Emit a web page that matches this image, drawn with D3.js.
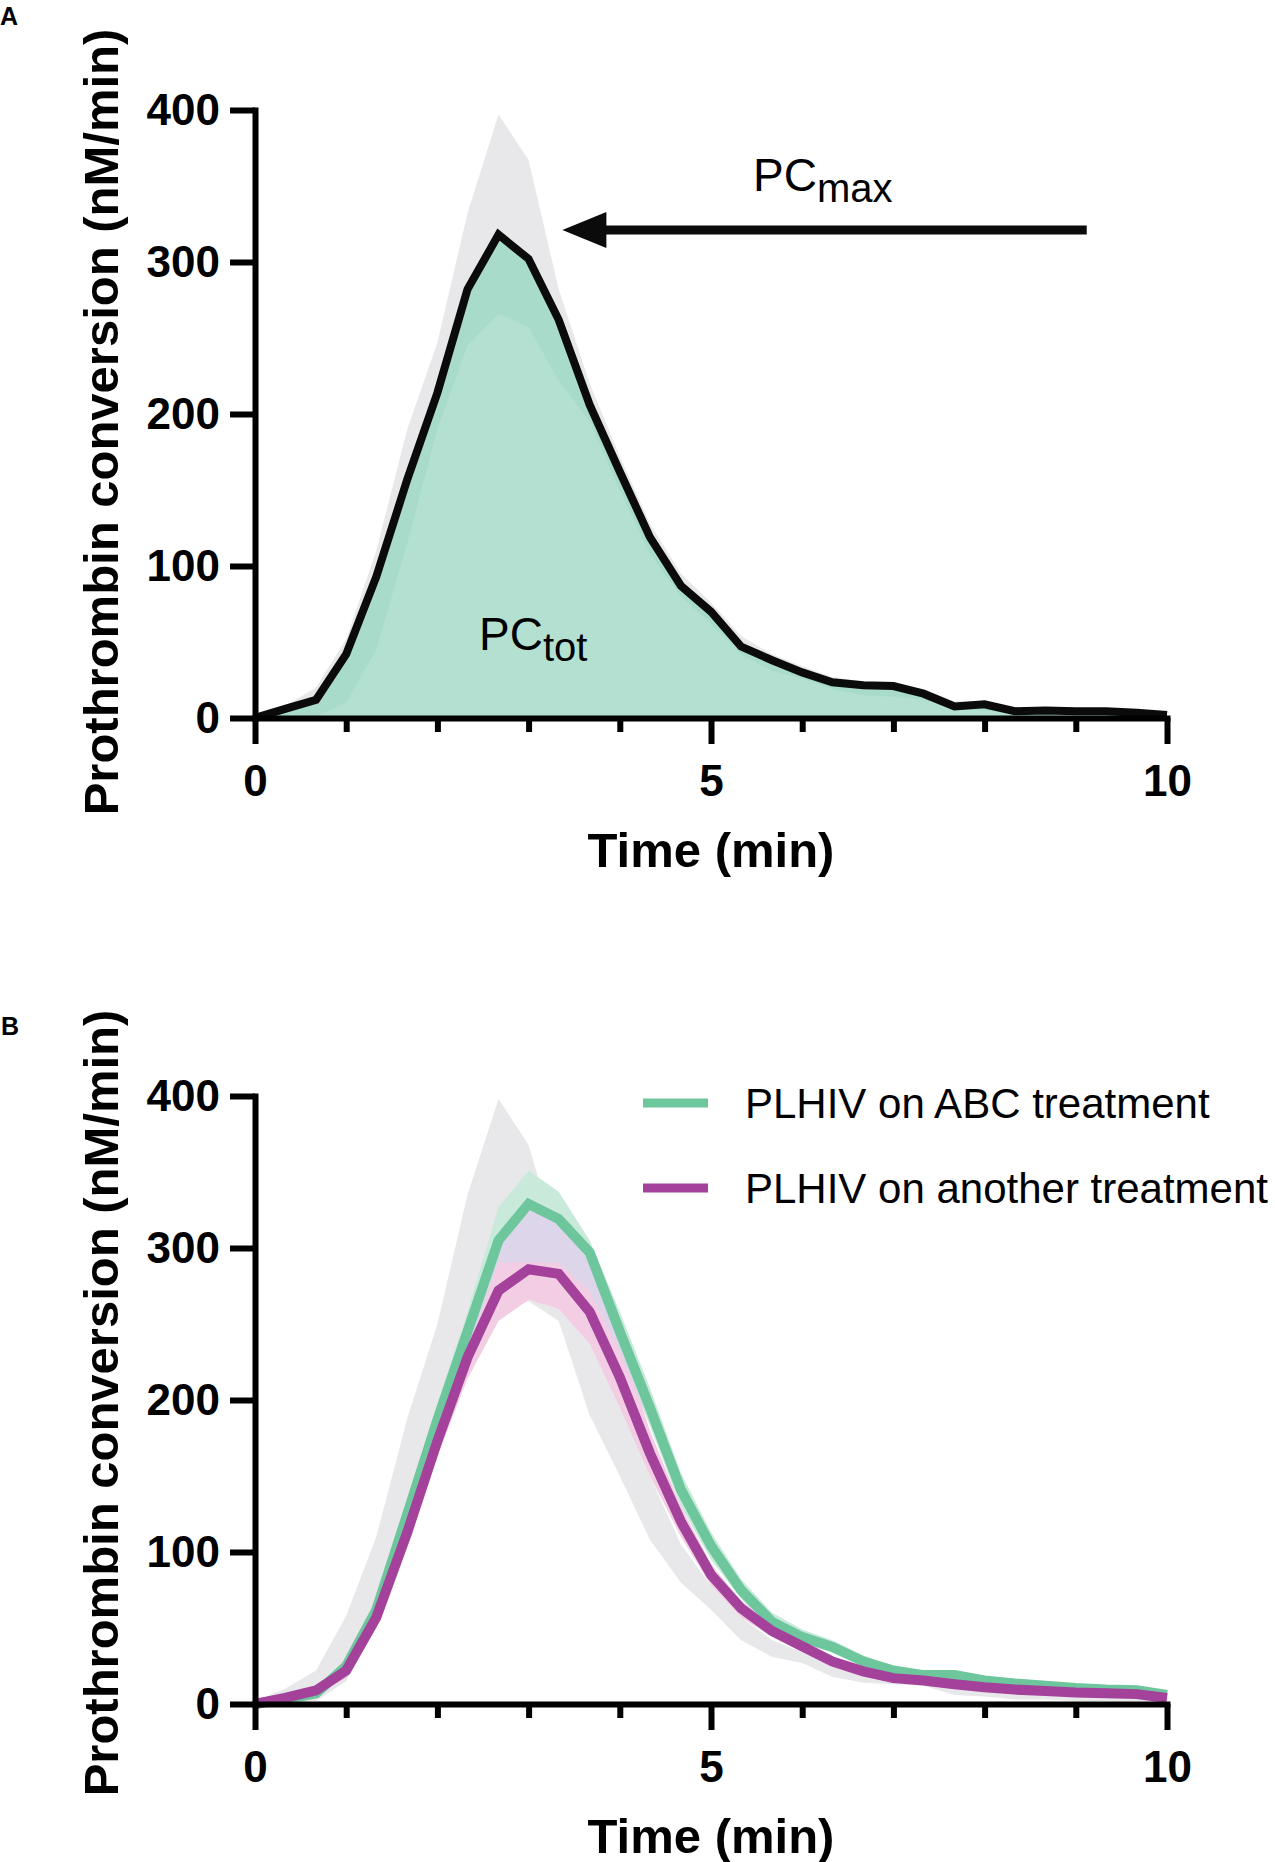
<!DOCTYPE html>
<html><head><meta charset="utf-8">
<script src="https://cdn.jsdelivr.net/npm/d3@7"></script>
<style>
body{margin:0;background:#fff;}
svg{display:block;}
text{font-family:"Liberation Sans", Arial, Helvetica, sans-serif;}
</style>
</head><body>
<svg id="chart" width="1275" height="1862"></svg>
<script>
// ---- data ----
const times = [0,0.33,0.67,1,1.33,1.67,2,2.33,2.67,3,3.33,3.67,4,4.33,4.67,5,5.33,5.67,6,6.33,6.67,7,7.33,7.67,8,8.33,8.67,9,9.33,9.67,10];

// Panel A
const meanA      = [0,6,12,42,93,157,214,282,318,302,262,206,162,119,87,70,47,38,30,23.5,21.5,21,16,7.6,9,4.5,5,4.5,4.5,3.5,2];
const greyAUpper = [2,8,20,52,110,190,247,332,397,367,282,220,172,128,95,76,54,42,34,27,24,23,19,11,11,7,7,6,6,5,4];
const greyALower = [0,0,1,10,45,115,190,245,266,257,222,195,150,108,80,62,42,31,26,19,15,14,12,6,5,3,3,2,2,2,1];

// Panel B
const greyBUpper = [2,10,22,58,110,188,250,335,398,368,300,245,197,150,105,78,57,42,34,26,21,18,15,12,10,8,7,6,5,5,3];
const greyBLower = [0,0,2,15,55,110,170,235,258,265,252,190,150,108,80,62,42,31,27,18,14,13,12,6,5,3,3,2,2,2,1];
const abcMean    = [0,3,7,25,62,125,187,245,305,329,319,297,245,195,141,104,75,54,44,37.5,28,22,19,19,15.5,13.5,12,10.5,9.5,9,6];
const abcUpper   = [1,4,9,29,68,132,198,258,327,351,337,305,258,208,152,113,82,60,49,42,32,25,21,21,17,15,13,11.5,10.5,10,7];
const abcLower   = [0,2,5,21,56,118,176,232,290,291,290,272,232,183,130,95,69,49,40,34,25,19,17,17,14,12,11,9.5,8.5,8,5];
const otherMean  = [0,4,9,22,57,113,173,228,272,286,283,258,215,165,120,85,63,48,38,28,21.5,17,15.5,13,11,9.5,8.5,7.5,7,6.5,4];
const otherUpper = [1,5,11,25,62,120,182,240,302,325,318,290,240,180,130,92,68,52,41,31,24,19,17,14.5,12.5,11,10,9,8,7.5,5];
const otherLower = [0,2,6,17,50,105,163,214,252,266,260,237,195,150,110,78,57,44,34,24,18,14.5,13.5,11,9.5,8,7,6,5.5,5,3];

const yTicks = [0,100,200,300,400];
const xMajorTicks = [0,5,10];
const xMinorTicks = [1,2,3,4,6,7,8,9];
const seriesNames = ["PLHIV on ABC treatment","PLHIV on another treatment"];
const peakAnnot = {tip: 3.37, tail: 9.12, value: 321};

// ---- drawing ----
const svg = d3.select('#chart');
const x = d3.scaleLinear().domain([0,10]).range([255,1167]);
const makeY = base => d3.scaleLinear().domain([0,400]).range([base, base-608]);
const yA = makeY(718), yB = makeY(1704);

const bandArea = (y, lo, hi) => d3.area().x((d,i)=>x(times[i])).y0((d,i)=>y(lo[i])).y1((d,i)=>y(hi[i]));
const meanLine = (y, arr) => d3.line().x((d,i)=>x(times[i])).y((d,i)=>y(arr[i]));

function drawAxes(y, base, titleShift) {
  const g = svg.append('g');
  const ay = g.append('g').attr('transform','translate(255,0)')
    .call(d3.axisLeft(y).tickValues(yTicks).tickSize(25).tickSizeOuter(0).tickPadding(10));
  const axm = g.append('g').attr('transform',`translate(0,${base})`)
    .call(d3.axisBottom(x).tickValues(xMinorTicks).tickSize(14).tickFormat(''));
  axm.select('.domain').remove();
  const ax = g.append('g').attr('transform',`translate(0,${base})`)
    .call(d3.axisBottom(x).tickValues(xMajorTicks).tickSize(26).tickSizeOuter(0).tickPadding(21));
  [ay, axm, ax].forEach(a => {
    a.selectAll('.domain').attr('stroke','#000').attr('stroke-width',6).attr('stroke-linecap','square');
    a.selectAll('.tick line').attr('stroke','#000').attr('stroke-width',6);
    a.selectAll('.tick text').attr('fill','#000').style('font-size','44px').style('font-weight','bold')
      .style('font-family','"Liberation Sans", Arial, sans-serif');
  });
  g.append('text').attr('x', 711).attr('y', base+149).attr('text-anchor','middle')
    .style('font-size','49px').style('font-weight','bold').text('Time (min)');
  const cy = (y(0)+y(400))/2 + titleShift;
  g.append('text').attr('transform',`translate(118,${cy}) rotate(-90)`).attr('text-anchor','middle')
    .style('font-size','49px').style('font-weight','bold').text('Prothrombin conversion (nM/min)');
}

// Panel A
svg.append('text').attr('x',0).attr('y',25).style('font-size','25px').style('font-weight','bold').text('A');
svg.append('path').datum(times).attr('d', bandArea(yA, greyALower, greyAUpper)).attr('fill','#e8e8eb');
const zeroA = times.map(() => 0);
svg.append('path').datum(times).attr('d', bandArea(yA, zeroA, meanA)).attr('fill','#b3e0d1');
// part of the green fill covered by the grey band (slightly darker green)
const ovALo = times.map((d,i)=>Math.min(greyALower[i], meanA[i]));
const ovAHi = times.map((d,i)=>Math.max(ovALo[i], Math.min(greyAUpper[i], meanA[i])));
svg.append('path').datum(times).attr('d', bandArea(yA, ovALo, ovAHi)).attr('fill','#a8dbc9');
svg.append('path').datum(times).attr('d', meanLine(yA, meanA))
  .attr('fill','none').attr('stroke','#0b0b0b').attr('stroke-width',8).attr('stroke-linejoin','miter');

// annotations
const pcMax = svg.append('text').attr('x',753).attr('y',191).style('font-size','46px').attr('fill','#000');
pcMax.append('tspan').text('PC');
pcMax.append('tspan').attr('dy',11).style('font-size','40px').text('max');
const pcTot = svg.append('text').attr('x',479).attr('y',650).style('font-size','46px').attr('fill','#000');
pcTot.append('tspan').text('PC');
pcTot.append('tspan').attr('dy',11).style('font-size','40px').text('tot');
const ay0 = yA(peakAnnot.value), tipX = x(peakAnnot.tip);
svg.append('line').attr('x1', x(peakAnnot.tail)).attr('x2', tipX+40).attr('y1', ay0).attr('y2', ay0)
  .attr('stroke','#0b0b0b').attr('stroke-width',9);
svg.append('path').attr('d', `M${tipX},${ay0} L${tipX+44},${ay0-18} L${tipX+44},${ay0+18} Z`).attr('fill','#0b0b0b');

drawAxes(yA, 718, 8);

// Panel B
svg.append('text').attr('x',1).attr('y',1035).style('font-size','25px').style('font-weight','bold').text('B');
svg.append('path').datum(times).attr('d', bandArea(yB, greyBLower, greyBUpper)).attr('fill','#e8e8eb');
svg.append('path').datum(times).attr('d', bandArea(yB, abcLower, abcUpper)).attr('fill','#c9e9db');
svg.append('path').datum(times).attr('d', bandArea(yB, otherLower, otherUpper)).attr('fill','#f2cde3');
const ovLo = times.map((d,i)=>Math.max(abcLower[i], otherLower[i]));
const ovHi = times.map((d,i)=>Math.max(ovLo[i], Math.min(abcUpper[i], otherUpper[i])));
svg.append('path').datum(times).attr('d', bandArea(yB, ovLo, ovHi)).attr('fill','#ddd5ea');
svg.append('path').datum(times).attr('d', meanLine(yB, abcMean))
  .attr('fill','none').attr('stroke','#6ec69d').attr('stroke-width',10).attr('stroke-linejoin','miter');
svg.append('path').datum(times).attr('d', meanLine(yB, otherMean))
  .attr('fill','none').attr('stroke','#a3419b').attr('stroke-width',10).attr('stroke-linejoin','miter');

drawAxes(yB, 1704, 3);

// legend
const legColors = ['#6ec69d','#a3419b'];
const legY = [1103, 1188];
seriesNames.forEach((name, i) => {
  svg.append('line').attr('x1',643).attr('x2',708).attr('y1',legY[i]).attr('y2',legY[i])
    .attr('stroke',legColors[i]).attr('stroke-width',9);
  svg.append('text').attr('x',745).attr('y',legY[i]+15).style('font-size','42px').attr('fill','#000').text(name);
});
</script>
</body></html>
